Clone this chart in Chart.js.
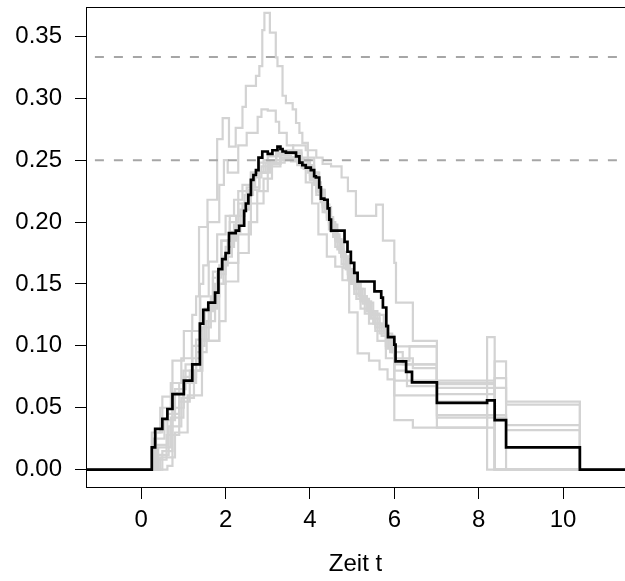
<!DOCTYPE html>
<html>
<head>
<meta charset="utf-8">
<script src="https://cdn.jsdelivr.net/npm/chart.js@4.4.1/dist/chart.umd.min.js"></script>
<style>
html,body{margin:0;padding:0;background:#fff;}
#wrap{width:625px;height:581px;position:relative;}
</style>
</head>
<body>
<div id="wrap"><canvas id="c" width="625" height="581"></canvas></div>
<script>
// ---- axis ticks / reference lines ----
const xTicks = [0, 2, 4, 6, 8, 10];
const yTicks = [0, 0.05, 0.10, 0.15, 0.20, 0.25, 0.30, 0.35];
const refLines = [0.25, 0.3333];
const xTitle = 'Zeit t';

// ---- black (mean) step function: jump times and levels ----
const meanT = [-2, 0.25, 0.33, 0.50, 0.62, 0.74, 1.01, 1.21, 1.39, 1.47, 1.59, 1.75, 1.83, 1.92, 2.00, 2.08, 2.24, 2.32, 2.44, 2.48, 2.54, 2.60, 2.66, 2.72, 2.78, 2.87, 3.00, 3.11, 3.23, 3.30, 3.35, 3.43, 3.59, 3.67, 3.75, 3.82, 3.90, 4.02, 4.10, 4.14, 4.22, 4.26, 4.34, 4.42, 4.46, 4.50, 4.74, 4.82, 4.89, 4.97, 5.05, 5.13, 5.49, 5.53, 5.69, 5.73, 5.81, 5.85, 6.00, 6.03, 6.28, 6.42, 7.01, 8.20, 8.38, 8.65, 10.40, 12];
const meanV = [0, 0.018, 0.033, 0.041, 0.049, 0.061, 0.072, 0.085, 0.118, 0.129, 0.135, 0.143, 0.162, 0.170, 0.175, 0.191, 0.193, 0.197, 0.209, 0.215, 0.222, 0.234, 0.238, 0.242, 0.252, 0.257, 0.255, 0.258, 0.261, 0.259, 0.257, 0.256, 0.256, 0.253, 0.248, 0.246, 0.244, 0.242, 0.237, 0.236, 0.228, 0.219, 0.218, 0.211, 0.202, 0.193, 0.193, 0.184, 0.176, 0.167, 0.159, 0.152, 0.152, 0.144, 0.139, 0.131, 0.116, 0.107, 0.101, 0.0875, 0.079, 0.0705, 0.054, 0.056, 0.040, 0.018, 0, 0];

// ---- grey single runs ----
const g1T = [-2, 0.35, 0.5, 0.74, 1.01, 1.21, 1.3, 1.37, 1.57, 1.8, 1.93, 2.08, 2.24, 2.4, 2.48, 2.72, 2.8, 2.87, 2.92, 3.05, 3.19, 3.23, 3.35, 3.43, 3.59, 3.67, 3.75, 3.82, 3.95, 4.1, 4.22, 4.34, 4.46, 4.6, 4.74, 4.9, 5.05, 5.2, 5.45, 5.65, 5.85, 6.0, 7.01, 8.2, 8.38, 12];
const g1V = [0, 0.030, 0.059, 0.088, 0.112, 0.125, 0.140, 0.196, 0.218, 0.267, 0.284, 0.261, 0.276, 0.293, 0.310, 0.318, 0.326, 0.355, 0.369, 0.353, 0.333, 0.326, 0.302, 0.296, 0.291, 0.280, 0.272, 0.264, 0.252, 0.240, 0.226, 0.214, 0.198, 0.186, 0.172, 0.158, 0.146, 0.136, 0.126, 0.117, 0.108, 0.0996, 0.034, 0.107, 0, 0];

const g2T = [-2, 0.30, 0.62, 0.9, 1.21, 1.39, 1.47, 1.58, 1.85, 1.96, 2.05, 2.3, 2.5, 2.76, 2.85, 3.0, 3.19, 3.27, 3.45, 3.6, 3.8, 3.95, 4.1, 4.26, 4.4, 4.55, 4.7, 4.85, 5.0, 5.2, 5.4, 5.6, 5.8, 6.0, 6.44, 7.01, 8.38, 8.65, 12];
const g2V = [0, 0.020, 0.045, 0.070, 0.100, 0.150, 0.165, 0.200, 0.230, 0.250, 0.240, 0.262, 0.272, 0.285, 0.291, 0.290, 0.281, 0.272, 0.262, 0.258, 0.252, 0.245, 0.232, 0.218, 0.204, 0.190, 0.176, 0.162, 0.150, 0.138, 0.128, 0.118, 0.106, 0.090, 0.082, 0.061, 0.0875, 0, 0];

const g3T = [-2, 0.5, 0.74, 1.01, 1.3, 1.5, 1.7, 1.9, 2.1, 2.3, 2.6, 2.9, 3.2, 3.6, 3.9, 4.15, 4.3, 4.5, 4.75, 4.9, 5.09, 5.57, 5.73, 6.0, 6.04, 6.44, 7.01, 8.38, 8.65, 10.4, 12];
const g3V = [0, 0.015, 0.050, 0.075, 0.100, 0.128, 0.155, 0.185, 0.205, 0.225, 0.240, 0.250, 0.258, 0.262, 0.258, 0.252, 0.247, 0.245, 0.236, 0.225, 0.205, 0.214, 0.185, 0.167, 0.135, 0.104, 0.070, 0.074, 0.055, 0, 0];

const g4T = [-2, 0.62, 0.74, 1.0, 1.21, 1.44, 1.85, 2.0, 2.3, 2.6, 2.9, 3.1, 3.4, 3.7, 3.9, 4.05, 4.2, 4.4, 4.6, 4.77, 4.93, 5.13, 5.4, 5.65, 5.84, 6.0, 6.44, 8.38, 12];
const g4V = [0, 0.003, 0.062, 0.080, 0.090, 0.104, 0.150, 0.167, 0.190, 0.215, 0.235, 0.248, 0.252, 0.246, 0.232, 0.215, 0.190, 0.172, 0.164, 0.153, 0.127, 0.094, 0.088, 0.081, 0.073, 0.040, 0.034, 0, 0];

const g5T = [-2, 0.45, 0.8, 1.1, 1.44, 1.85, 2.0, 2.3, 2.55, 2.75, 3.0, 3.3, 3.6, 3.85, 4.0, 4.15, 4.3, 4.45, 4.6, 4.75, 4.9, 5.05, 5.2, 5.35, 5.5, 5.7, 5.9, 6.0, 7.01, 8.2, 12];
const g5V = [0, 0.010, 0.030, 0.060, 0.104, 0.120, 0.152, 0.175, 0.200, 0.225, 0.245, 0.252, 0.250, 0.243, 0.235, 0.225, 0.212, 0.198, 0.185, 0.172, 0.160, 0.150, 0.140, 0.128, 0.118, 0.108, 0.095, 0.085, 0.055, 0, 0];

const g6T = [-2, 0.28, 0.55, 0.8, 1.05, 1.3, 1.5, 1.7, 1.9, 2.1, 2.3, 2.5, 2.7, 2.95, 3.2, 3.5, 3.8, 4.0, 4.2, 4.35, 4.5, 4.65, 4.8, 4.95, 5.1, 5.3, 5.5, 5.75, 5.95, 6.2, 7.01, 8.65, 10.4, 12];
const g6V = [0, 0.025, 0.040, 0.065, 0.085, 0.105, 0.130, 0.160, 0.185, 0.200, 0.215, 0.228, 0.240, 0.248, 0.255, 0.256, 0.250, 0.240, 0.226, 0.212, 0.198, 0.184, 0.170, 0.158, 0.146, 0.135, 0.125, 0.110, 0.095, 0.085, 0.066, 0.0525, 0, 0];

const g7T = [-2, 0.35, 0.65, 0.95, 1.25, 1.45, 1.65, 1.85, 2.05, 2.25, 2.45, 2.65, 2.85, 3.05, 3.3, 3.6, 3.85, 4.05, 4.2, 4.35, 4.5, 4.65, 4.8, 4.95, 5.1, 5.3, 5.55, 5.8, 6.0, 6.3, 7.01, 8.65, 10.4, 12];
const g7V = [0, 0.012, 0.035, 0.058, 0.080, 0.115, 0.140, 0.165, 0.185, 0.205, 0.222, 0.236, 0.245, 0.250, 0.252, 0.251, 0.246, 0.236, 0.224, 0.208, 0.192, 0.178, 0.163, 0.150, 0.138, 0.126, 0.112, 0.098, 0.080, 0.0675, 0.044, 0.036, 0, 0];

const g8T = [-2, 0.4, 0.7, 1.0, 1.3, 1.55, 1.75, 1.95, 2.15, 2.35, 2.55, 2.8, 3.0, 3.3, 3.55, 3.8, 4.0, 4.15, 4.3, 4.45, 4.6, 4.75, 4.9, 5.05, 5.25, 5.45, 5.65, 5.85, 6.0, 7.01, 8.65, 10.4, 12];
const g8V = [0, 0.018, 0.042, 0.070, 0.095, 0.120, 0.150, 0.172, 0.192, 0.210, 0.226, 0.240, 0.247, 0.254, 0.255, 0.249, 0.238, 0.226, 0.214, 0.200, 0.186, 0.172, 0.158, 0.146, 0.134, 0.122, 0.110, 0.098, 0.060, 0.042, 0.032, 0, 0];

const g9T = [-2, 0.25, 0.45, 0.7, 0.95, 1.2, 1.4, 1.6, 1.8, 2.0, 2.2, 2.4, 2.6, 2.8, 3.0, 3.25, 3.5, 3.75, 3.95, 4.1, 4.25, 4.4, 4.55, 4.7, 4.85, 5.0, 5.15, 5.35, 5.55, 5.8, 6.0, 6.36, 7.01, 8.38, 12];
const g9V = [0, 0.030, 0.050, 0.070, 0.090, 0.112, 0.140, 0.168, 0.190, 0.205, 0.218, 0.230, 0.240, 0.248, 0.253, 0.256, 0.256, 0.250, 0.240, 0.230, 0.216, 0.202, 0.188, 0.175, 0.162, 0.150, 0.140, 0.128, 0.115, 0.100, 0.088, 0.0996, 0.069, 0, 0];

const g10T = [-2, 0.3, 0.6, 0.9, 1.15, 1.4, 1.6, 1.8, 2.0, 2.2, 2.4, 2.6, 2.8, 3.05, 3.3, 3.55, 3.8, 4.0, 4.15, 4.3, 4.45, 4.6, 4.75, 4.9, 5.05, 5.2, 5.4, 5.6, 5.8, 6.0, 8.38, 12];
const g10V = [0, 0.008, 0.028, 0.055, 0.080, 0.105, 0.130, 0.158, 0.180, 0.198, 0.215, 0.228, 0.240, 0.247, 0.250, 0.249, 0.244, 0.234, 0.222, 0.208, 0.194, 0.180, 0.166, 0.153, 0.142, 0.130, 0.118, 0.104, 0.090, 0.072, 0, 0];

const greyRuns = [[g1T, g1V], [g2T, g2V], [g3T, g3V], [g4T, g4V], [g5T, g5V], [g6T, g6V], [g7T, g7V], [g8T, g8V], [g9T, g9V], [g10T, g10V]];

// ---- build datasets ----
const toPts = (T, V) => T.map((t, i) => ({x: t, y: V[i]}));
const datasets = [];
datasets.push({
  data: toPts(meanT, meanV), borderColor: '#000000', borderWidth: 2.7,
  stepped: true, pointRadius: 0, clip: 0, order: 0
});
refLines.forEach(v => datasets.push({
  data: [{x: -2, y: v}, {x: 12, y: v}], borderColor: '#a6a6a6', borderWidth: 2,
  borderDash: [9, 10], pointRadius: 0, clip: 0, order: 1
}));
greyRuns.forEach(([T, V]) => datasets.push({
  data: toPts(T, V), borderColor: '#d3d3d3', borderWidth: 2.2,
  stepped: true, pointRadius: 0, clip: 0, order: 2
}));

const FONT = "'Liberation Sans', Arial, Helvetica, sans-serif";

const boxPlugin = {
  id: 'box',
  afterDraw(chart) {
    const {ctx, chartArea: a} = chart;
    ctx.save();
    ctx.strokeStyle = '#000';
    ctx.lineWidth = 1;
    ctx.strokeRect(Math.round(a.left) + 0.5, Math.round(a.top) + 0.5,
                   Math.round(a.right - a.left), Math.round(a.bottom - a.top));
    ctx.restore();
  }
};

new Chart(document.getElementById('c'), {
  type: 'line',
  data: {datasets},
  plugins: [boxPlugin],
  options: {
    responsive: false,
    devicePixelRatio: 1,
    animation: false,
    events: [],
    layout: {padding: {top: 7, right: 0, bottom: 0, left: 0}, autoPadding: false},
    plugins: {legend: {display: false}, tooltip: {enabled: false}},
    scales: {
      x: {
        type: 'linear', min: -1.31, max: 11.47,
        afterBuildTicks: s => { s.ticks = xTicks.map(v => ({value: v})); },
        afterFit: s => { s.height = 94; s.paddingLeft = 0; s.paddingRight = 0; },
        grid: {display: true, drawOnChartArea: false, drawTicks: true, tickLength: 12, color: '#000', lineWidth: 1},
        border: {display: false},
        ticks: {color: '#000', font: {family: FONT, size: 24}, padding: 7, maxRotation: 0,
                callback: v => String(v)},
        title: {display: true, text: xTitle, color: '#000', font: {family: FONT, size: 24}, padding: {top: 0, bottom: 2}}
      },
      y: {
        type: 'linear', min: -0.014, max: 0.3737,
        afterBuildTicks: s => { s.ticks = yTicks.map(v => ({value: v})); },
        afterFit: s => { s.width = 86; s.paddingTop = 0; s.paddingBottom = 0; },
        grid: {display: true, drawOnChartArea: false, drawTicks: true, tickLength: 11, color: '#000', lineWidth: 1},
        border: {display: false},
        ticks: {color: '#000', font: {family: FONT, size: 24}, padding: 13,
                callback: v => Number(v).toFixed(2)}
      }
    }
  }
});
</script>
</body>
</html>
